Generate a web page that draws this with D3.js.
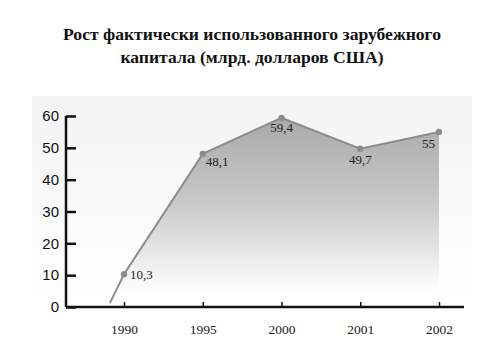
<!DOCTYPE html>
<meta charset="utf-8">
<style>
body { margin: 0; background: #fff; }
.title { font: bold 17.6px "Liberation Serif", "Times New Roman", serif; fill: #111; }
.axis--y text { font: 15px "Liberation Sans", Arial, sans-serif; fill: #111; }
.axis--x text { font: 13.5px "Liberation Serif", "Times New Roman", serif; fill: #222; }
.axis path, .axis line { stroke: #111; }
.label { font: 13px "Liberation Serif", "Times New Roman", serif; fill: #222; }
.line { fill: none; stroke: #8c8c8c; stroke-width: 2px; }
</style>
<svg width="500" height="345"></svg>
<script src="https://cdn.jsdelivr.net/npm/d3@7"></script>
<script>
// data
var years = ["1990", "1995", "2000", "2001", "2002"];
var values = [10.3, 48.1, 59.4, 49.7, 55];
var valueLabels = ["10,3", "48,1", "59,4", "49,7", "55"];
var yTicks = [0, 10, 20, 30, 40, 50, 60];
// the line starts a little before 1990, near zero
var leadIn = {offset: -0.18, value: 1.2};

var svg = d3.select("svg"),
    margin = {top: 116, right: 36, bottom: 38, left: 66},
    width = svg.attr("width") - margin.left - margin.right,
    height = svg.attr("height") - margin.top - margin.bottom;

var x = d3.scalePoint().domain(years).range([58, width - 25]),
    y = d3.scaleLinear().domain([0, 60]).range([height, 0]);

// gradients: pale panel and the fading fill
var defs = svg.append("defs");
var bg = defs.append("linearGradient").attr("id", "bg").attr("x1", 0).attr("y1", 0).attr("x2", 0).attr("y2", 1);
bg.append("stop").attr("offset", "0%").attr("stop-color", "#f3f3f3");
bg.append("stop").attr("offset", "100%").attr("stop-color", "#ffffff");
var fillGrad = defs.append("linearGradient").attr("id", "fillGrad")
    .attr("gradientUnits", "userSpaceOnUse")
    .attr("x1", 0).attr("y1", y(60)).attr("x2", 0).attr("y2", y(0));
fillGrad.append("stop").attr("offset", "0%").attr("stop-color", "#a9a9a9");
fillGrad.append("stop").attr("offset", "45%").attr("stop-color", "#c8c8c8");
fillGrad.append("stop").attr("offset", "92%").attr("stop-color", "#ffffff");

svg.append("rect")
    .attr("x", 32).attr("y", 96)
    .attr("width", 440).attr("height", 200)
    .attr("fill", "url(#bg)");

// title
svg.append("text").attr("class", "title")
    .attr("x", 252).attr("y", 40).attr("text-anchor", "middle")
    .text("Рост фактически использованного зарубежного");
svg.append("text").attr("class", "title")
    .attr("x", 252).attr("y", 63).attr("text-anchor", "middle")
    .text("капитала (млрд. долларов США)");

var g = svg.append("g").attr("transform", "translate(" + margin.left + "," + margin.top + ")");

var pts = years.map(function(d, i) { return {year: d, value: values[i], label: valueLabels[i]}; });

var startX = x(years[0]) + leadIn.offset * x.step();
var linePts = [[startX, y(leadIn.value)]].concat(pts.map(function(d) { return [x(d.year), y(d.value)]; }));

// filled area under the line
var area = d3.area()
    .x(function(d) { return d[0]; })
    .y0(height)
    .y1(function(d) { return d[1]; });
g.append("path")
    .datum(linePts)
    .attr("d", area)
    .attr("fill", "url(#fillGrad)");

// y axis
g.append("g")
    .attr("class", "axis axis--y")
    .call(d3.axisRight(y).tickValues(yTicks).tickSize(10).tickFormat(d3.format("d")))
    .call(function(a) {
      a.select(".domain").attr("d", "M0," + height + "V0").attr("stroke-width", 2.5);
      a.selectAll(".tick line").attr("stroke-width", 2.5);
      a.selectAll(".tick text").attr("x", -7).attr("text-anchor", "end");
    });

// x axis
g.append("g")
    .attr("class", "axis axis--x")
    .attr("transform", "translate(0," + height + ")")
    .call(d3.axisBottom(x).tickSize(-5).tickPadding(17))
    .call(function(a) {
      a.select(".domain").attr("d", "M0,0H" + width).attr("stroke-width", 2.5);
      a.selectAll(".tick line").attr("stroke-width", 1.5);
    });

// line
g.append("path")
    .datum(linePts)
    .attr("class", "line")
    .attr("d", d3.line());

g.selectAll(".dot")
    .data(pts)
    .enter().append("circle")
    .attr("class", "dot")
    .attr("cx", function(d) { return x(d.year); })
    .attr("cy", function(d) { return y(d.value); })
    .attr("r", 3.2)
    .attr("fill", "#8c8c8c");

// value labels
var labelPos = {
  "1990": {dx: 6, dy: 5, anchor: "start"},
  "1995": {dx: 3, dy: 12, anchor: "start"},
  "2000": {dx: 0, dy: 14, anchor: "middle"},
  "2001": {dx: 0, dy: 15, anchor: "middle"},
  "2002": {dx: -4, dy: 16, anchor: "end"}
};
g.selectAll(".label")
    .data(pts)
    .enter().append("text")
    .attr("class", "label")
    .attr("x", function(d) { return x(d.year) + labelPos[d.year].dx; })
    .attr("y", function(d) { return y(d.value) + labelPos[d.year].dy; })
    .attr("text-anchor", function(d) { return labelPos[d.year].anchor; })
    .text(function(d) { return d.label; });
</script>
